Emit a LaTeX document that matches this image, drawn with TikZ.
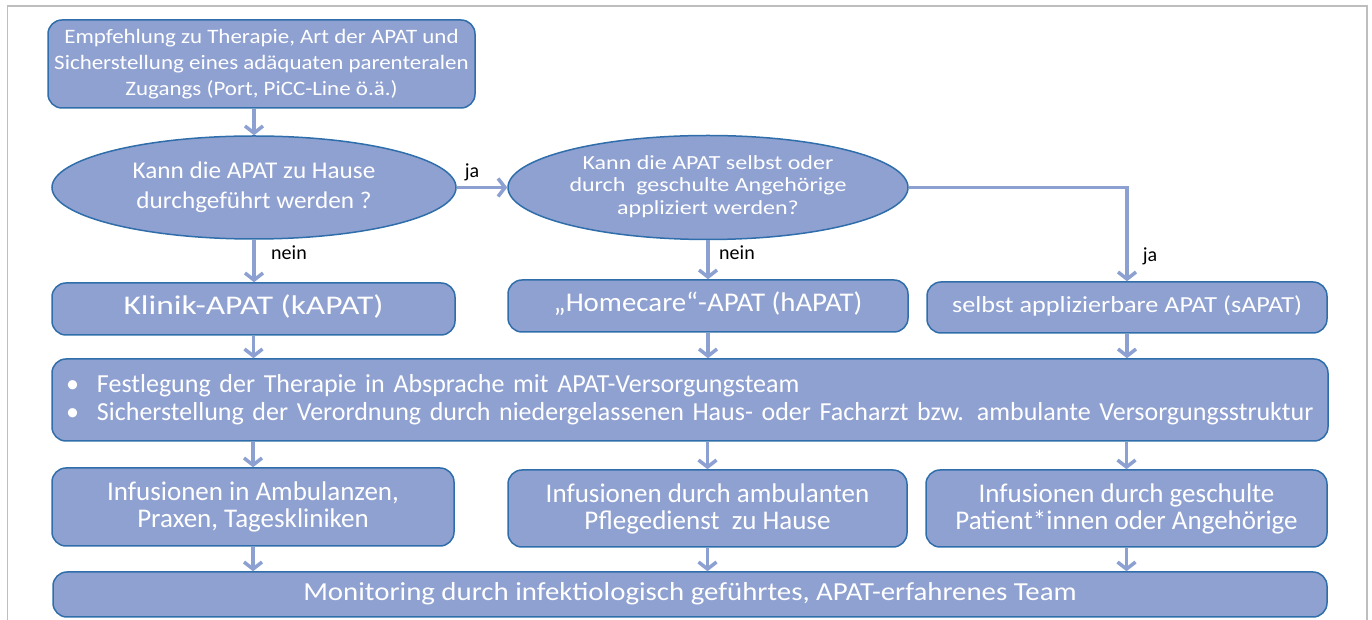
\documentclass[tikz,border=0pt]{standalone}
\usepackage{fontspec}
\usepackage{graphicx}
\setmainfont{Carlito}
\usetikzlibrary{shapes.geometric,arrows.meta}
\definecolor{boxfill}{RGB}{143,161,209}
\definecolor{boxline}{RGB}{47,110,170}
\definecolor{arrowcol}{RGB}{140,160,210}
\definecolor{framecol}{RGB}{190,190,190}
% text widened like in the original slide
\newcommand{\stretchtext}[2]{\scalebox{#1}[1]{\begin{tabular}{@{}c@{}}#2\end{tabular}}}
\tikzset{
  stepbox/.style={draw=boxline,fill=boxfill,line width=1.5bp,rounded corners=14bp,
    text=white,align=center,inner sep=0pt},
  question/.style={ellipse,draw=boxline,fill=boxfill,line width=1.5bp,
    text=white,align=center,inner sep=0pt},
  flow/.style={draw=arrowcol,line width=3.5bp,-{Straight Barb[length=7bp,width=18bp]}},
  answer/.style={font=\fontsize{20bp}{22bp}\selectfont,text=black,inner sep=0pt}
}
\begin{document}
\begin{tikzpicture}[line join=miter]
  \useasboundingbox (0bp,0bp) rectangle (1372bp,620bp);
  \draw [framecol,line width=1.5bp] (7.5bp,0bp) -- (7.5bp,614bp) -- (1367bp,614bp) -- (1367bp,0bp);
%%
  % Node: Start
  \node [stepbox,minimum width=427bp,minimum height=88bp,font=\fontsize{20.5bp}{26bp}\selectfont]
    (start) at (261.5bp,556bp) {\stretchtext{1.12}{Empfehlung zu Therapie, Art der APAT und\\Sicherstellung eines adäquaten parenteralen\\Zugangs (Port, PiCC-Line ö.ä.)}};
  % Node: Zuhause
  \node [question,minimum width=404bp,minimum height=103bp,font=\fontsize{24bp}{30bp}\selectfont]
    (home) at (254bp,432.5bp) {\stretchtext{1.05}{Kann die APAT zu Hause\\durchgeführt werden ?}};
  % Node: Selbst
  \node [question,minimum width=400bp,minimum height=104bp,font=\fontsize{20bp}{22.5bp}\selectfont]
    (self) at (708bp,432.5bp) {\stretchtext{1.2}{Kann die APAT selbst oder\\durch~ geschulte Angehörige\\appliziert werden?}};
  % Node: kAPAT
  \node [stepbox,minimum width=403bp,minimum height=52bp,font=\fontsize{27bp}{30bp}\selectfont]
    (kapat) at (253.5bp,311bp) {\stretchtext{1.24}{Klinik-APAT (kAPAT)}};
  % Node: hAPAT
  \node [stepbox,minimum width=400bp,minimum height=52bp,font=\fontsize{27bp}{30bp}\selectfont]
    (hapat) at (708bp,314bp) {\stretchtext{1.07}{„Homecare“-APAT (hAPAT)}};
  % Node: sAPAT
  \node [stepbox,minimum width=400bp,minimum height=51bp,font=\fontsize{23bp}{26bp}\selectfont]
    (sapat) at (1127bp,312.5bp) {\stretchtext{1.14}{selbst applizierbare APAT (sAPAT)}};
  % Node: Festlegung
  \node [stepbox,align=left,text width=1248bp,inner xsep=14bp,minimum height=82bp,
    font=\fontsize{26bp}{28bp}\selectfont]
    (plan) at (690bp,220bp) {\makebox[31bp][l]{\textbullet}Festlegung der Therapie in Absprache mit APAT-Versorgungsteam\\
    \makebox[31bp][l]{\textbullet}Sicherstellung der Verordnung durch niedergelassenen Haus- oder Facharzt bzw. ambulante Versorgungsstruktur};
  % Node: Ambulanz
  \node [stepbox,minimum width=402bp,minimum height=78bp,font=\fontsize{27bp}{27bp}\selectfont]
    (amb) at (253bp,113bp) {Infusionen in Ambulanzen,\\Praxen, Tageskliniken};
  % Node: Pflegedienst
  \node [stepbox,minimum width=399bp,minimum height=77bp,font=\fontsize{27bp}{27bp}\selectfont]
    (pflege) at (707.5bp,111.5bp) {Infusionen durch ambulanten\\Pflegedienst~ zu Hause};
  % Node: Patienten
  \node [stepbox,minimum width=401bp,minimum height=77bp,font=\fontsize{27bp}{27bp}\selectfont]
    (patient) at (1126.5bp,111.5bp) {Infusionen durch geschulte\\Patient*innen oder Angehörige};
  % Node: Monitoring
  \node [stepbox,minimum width=1274bp,minimum height=45bp,font=\fontsize{26bp}{28bp}\selectfont]
    (monitor) at (690bp,25.5bp) {\stretchtext{1.11}{Monitoring durch infektiologisch geführtes, APAT-erfahrenes Team}};
%%
  % Edge: Start -> Zuhause
  \draw [flow] (start.south -| home.north) -- (home.north);
  % Edge: Zuhause -> Selbst
  \draw [flow] (home.east) -- (self.west);
  \node [answer] (ja1) at (472bp,448bp) {ja};
  % Edge: Zuhause -> kAPAT
  \draw [flow] (home.south) -- (kapat.north -| home.south);
  \node [answer] (nein1) at (289bp,367bp) {nein};
  % Edge: Selbst -> hAPAT
  \draw [flow] (self.south) -- (hapat.north);
  \node [answer] (nein2) at (737bp,367bp) {nein};
  % Edge: Selbst -> sAPAT
  \draw [flow] (self.east) -| (sapat.north);
  \node [answer] (ja2) at (1150bp,364bp) {ja};
  % Edges: Zeile 2 -> Festlegung
  \foreach \n in {kapat,hapat,sapat}
    \draw [flow] (\n.south) -- (\n.south |- plan.north);
  % Edges: Festlegung -> Zeile 4
  \foreach \n in {amb,pflege,patient}
    \draw [flow] (\n.north |- plan.south) -- (\n.north);
  % Edges: Zeile 4 -> Monitoring
  \foreach \n in {amb,pflege,patient}
    \draw [flow] (\n.south) -- (\n.south |- monitor.north);
%
\end{tikzpicture}
\end{document}
